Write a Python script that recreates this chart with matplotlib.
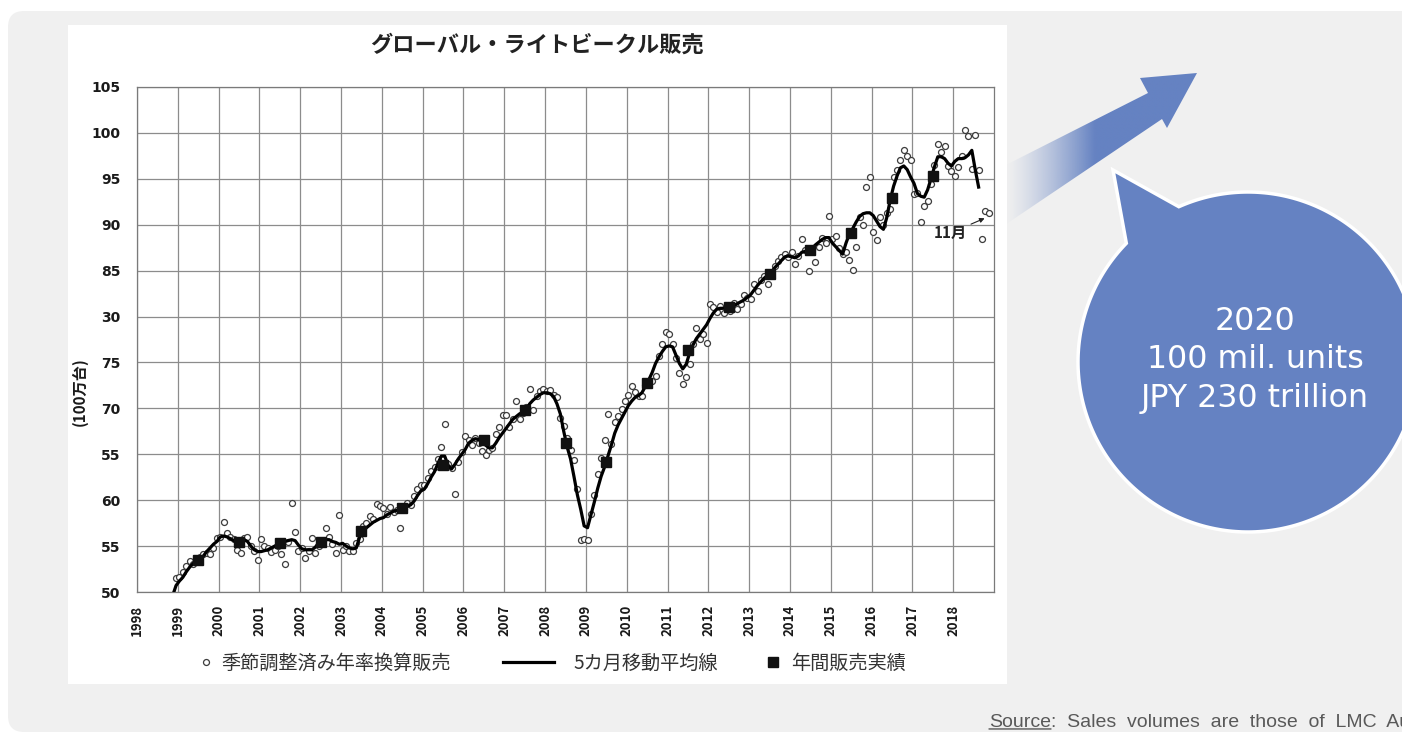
import matplotlib
matplotlib.use("Agg")
import matplotlib.pyplot as plt
import numpy as np
from matplotlib.patches import Polygon, Rectangle, FancyBboxPatch
from matplotlib.legend_handler import HandlerLine2D

plt.rcParams["font.family"] = ["Noto Sans CJK JP", "DejaVu Sans"]

# =========================
# DATOS
# =========================

TITLE = "グローバル・ライトビークル販売"
Y_LABEL = "(100万台)"
LABEL_SAAR = "季節調整済み年率換算販売"
LABEL_MA = "5カ月移動平均線"
LABEL_ANNUAL = "年間販売実績"

YEARS = list(range(1998, 2019))
Y_TICKS = [50, 55, 60, 65, 70, 75, 80, 85, 90, 95, 100, 105]
# etiquetas tal como aparecen en la imagen original
Y_TICK_LABELS = ["50", "55", "60", "55", "70", "75", "30", "85", "90", "95", "100", "105"]

# ventas mensuales (SAAR), desde dic-1998 hasta nov-2018
SAAR_START = (1998, 12)
saar_sales = [
    51.5,
    51.6, 52.2, 52.8, 53.4, 53.1, 53.5, 53.8, 54.1, 54.3, 54.1, 54.8, 55.9,  # 1999
    56.0, 57.6, 56.4, 56.0, 55.8, 54.6, 54.3, 55.9, 56.0, 55.0, 54.5, 53.5,  # 2000
    55.8, 55.0, 54.8, 54.4, 54.6, 55.0, 54.1, 53.1, 55.5, 59.7, 56.5, 54.5,  # 2001
    54.8, 53.7, 54.5, 55.9, 54.3, 55.0, 55.6, 57.0, 56.0, 55.2, 54.3, 58.4,  # 2002
    54.6, 55.0, 54.5, 54.5, 55.3, 55.8, 57.2, 57.5, 58.3, 58.0, 59.6, 59.4,  # 2003
    59.2, 58.5, 59.3, 58.7, 58.9, 57.0, 59.0, 59.7, 59.5, 60.5, 61.2, 61.6,  # 2004
    61.6, 62.4, 63.2, 63.6, 64.5, 65.8, 68.3, 63.9, 63.5, 60.7, 64.2, 65.3,  # 2005
    67.0, 66.5, 66.0, 66.8, 66.2, 65.4, 64.9, 65.5, 65.7, 67.2, 68.0, 69.3,  # 2006
    69.3, 68.0, 68.8, 70.8, 68.8, 69.5, 70.2, 72.1, 69.8, 71.4, 71.9, 72.1,  # 2007
    71.9, 72.0, 71.5, 71.2, 69.0, 68.1, 66.8, 65.5, 64.4, 61.2, 55.7, 55.8,  # 2008
    55.7, 58.5, 60.6, 62.8, 64.6, 66.6, 69.4, 66.1, 68.5, 69.2, 69.9, 70.8,  # 2009
    71.5, 72.4, 71.8, 71.4, 71.4, 72.5, 72.8, 73.0, 73.5, 75.7, 77.0, 78.3,  # 2010
    78.1, 77.0, 75.5, 73.9, 72.7, 73.4, 74.8, 77.0, 78.7, 77.5, 78.1, 77.1,  # 2011
    81.4, 81.0, 80.5, 81.2, 80.4, 81.0, 80.6, 81.5, 80.8, 81.4, 82.3, 82.0,  # 2012
    81.9, 83.5, 82.8, 84.0, 84.4, 83.5, 84.6, 85.5, 86.0, 86.5, 86.8, 86.5,  # 2013
    87.0, 85.7, 86.6, 88.4, 87.2, 85.0, 87.3, 85.9, 87.6, 88.6, 88.0, 91.0,  # 2014
    88.4, 88.8, 87.5, 86.8, 87.0, 86.2, 85.1, 87.6, 90.8, 90.0, 94.1, 95.2,  # 2015
    89.2, 88.3, 90.8, 90.0, 91.3, 91.7, 95.2, 96.0, 97.0, 98.1, 97.5, 97.0,  # 2016
    93.3, 93.5, 90.3, 92.0, 92.6, 94.4, 96.5, 98.8, 97.9, 98.6, 96.4, 95.8,  # 2017
    95.3, 96.3, 97.5, 100.3, 99.7, 96.1, 99.8, 96.0, 88.4, 91.5, 91.3,       # 2018
]

# media movil de 5 meses, desde nov-1998 hasta ago-2018
MA_START = (1998, 11)
ma5_sales = [
    49.6, 50.7,
    51.2, 51.6, 52.2, 52.7, 53.1, 53.3, 53.5, 53.9, 54.4, 54.8, 55.2, 55.5,  # 1999
    56.0, 56.1, 56.0, 55.8, 55.6, 55.4, 55.5, 55.7, 55.5, 55.0, 54.6, 54.4,  # 2000
    54.4, 54.5, 54.6, 54.8, 55.0, 55.2, 55.3, 55.5, 55.6, 55.7, 55.6, 55.1,  # 2001
    54.7, 54.6, 54.6, 54.6, 54.9, 55.4, 55.6, 55.7, 55.7, 55.5, 55.4, 55.2,  # 2002
    55.3, 55.0, 54.8, 54.7, 54.8, 56.0, 56.6, 57.0, 57.3, 57.6, 57.8, 58.0,  # 2003
    58.1, 58.4, 58.6, 58.8, 58.9, 59.0, 59.1, 59.3, 59.5, 59.9, 60.5, 61.0,  # 2004
    61.2, 61.8, 62.5, 63.1, 64.0, 64.8, 64.8, 63.8, 63.4, 63.9, 64.5, 65.0,  # 2005
    65.5, 66.2, 66.5, 66.7, 66.6, 66.3, 66.0, 65.7, 65.7, 66.2, 66.8, 67.3,  # 2006
    67.8, 68.3, 68.8, 69.1, 69.4, 69.6, 69.9, 70.5, 70.9, 71.2, 71.5, 71.7,  # 2007
    71.7, 71.6, 71.3, 70.5, 69.4, 67.5, 65.8, 64.5, 62.6, 60.6, 59.0, 57.2,  # 2008
    57.0, 58.4, 59.8, 61.3, 62.6, 63.6, 64.8, 66.0, 67.3, 68.2, 68.9, 69.6,  # 2009
    70.3, 70.8, 71.2, 71.4, 71.7, 72.4, 73.1, 73.9, 74.9, 75.6, 76.2, 76.7,  # 2010
    76.8, 76.7, 75.8, 74.9, 74.3, 74.8, 76.0, 76.9, 77.6, 78.1, 78.6, 79.1,  # 2011
    79.8, 80.4, 80.8, 80.9, 80.9, 81.0, 81.0, 81.2, 81.4, 81.6, 81.8, 82.1,  # 2012
    82.4, 82.9, 83.4, 83.8, 84.2, 84.5, 84.8, 85.3, 85.7, 86.1, 86.5, 86.6,  # 2013
    86.5, 86.4, 86.6, 87.0, 87.1, 87.2, 87.4, 87.8, 88.1, 88.4, 88.6, 88.6,  # 2014
    88.0, 87.6, 87.2, 86.8, 88.0, 89.0, 89.6, 90.3, 90.9, 91.2, 91.3, 91.3,  # 2015
    91.0, 90.4, 89.8, 89.5, 90.8, 92.7, 94.2, 95.3, 96.2, 96.4, 96.0, 95.2,  # 2016
    94.5, 93.4, 93.1, 93.0, 93.8, 95.0, 96.3, 97.4, 97.4, 97.2, 96.7, 96.4,  # 2017
    96.9, 97.2, 97.2, 97.3, 97.6, 98.1, 96.0, 94.1,                          # 2018
]

# ventas anuales (punto a mitad de ano)
annual_years = list(range(1999, 2018))
annual_sales = [53.5, 55.4, 55.3, 55.4, 56.6, 59.1, 63.8, 66.5, 69.8, 66.2,
                64.2, 72.8, 76.4, 81.0, 84.6, 87.3, 89.1, 92.9, 95.3]

NOTE_TEXT = "11月"
BUBBLE_LINES = ["2020", "100 mil. units", "JPY 230 trillion"]
SOURCE_WORD = "Source"
SOURCE_REST = ":  Sales  volumes  are  those  of  LMC  Au"

BLUE = "#6582c2"


def month_x(start, n):
    year, month = start
    return year + (month - 1 + np.arange(n)) / 12 + 0.04


class EndMarkerHandler(HandlerLine2D):
    # marcador centrado en una caja corta
    def get_xdata(self, legend, xdescent, ydescent, width, height, fontsize):
        return np.array([-xdescent, -xdescent + width]), np.array([-xdescent + width * 0.5])


def main() -> None:
    fig = plt.figure(figsize=(14.02, 7.32), dpi=100)

    # fondo en coordenadas de pixel
    bg = fig.add_axes([0, 0, 1, 1], zorder=0)
    bg.set_axis_off()

    panel = FancyBboxPatch((8, 11), 1440, 721, boxstyle="round,pad=0,rounding_size=16",
                           fc="#f0f0f0", ec="none", zorder=0)
    bg.add_patch(panel)

    # flecha con degradado
    arrow_pts = [(990, 173), (1148, 93), (1140, 78), (1197, 73),
                 (1167, 128), (1162, 119), (990, 235)]
    arrow = Polygon(arrow_pts, closed=True, fc="none", ec="none", zorder=1)
    bg.add_patch(arrow)
    xs = np.linspace(990, 1200, 300)
    alpha = np.clip((xs - 1005) / 90, 0.04, 1.0) ** 1.3
    rgb = np.array(matplotlib.colors.to_rgb(BLUE))
    grad = np.zeros((2, xs.size, 4))
    grad[..., :3] = rgb
    grad[..., 3] = alpha
    im = bg.imshow(grad, extent=(990, 1200, 240, 70), aspect="auto", zorder=1,
                   interpolation="bilinear")
    im.set_clip_path(arrow)

    # imagen del grafico (fondo blanco)
    bg.add_patch(Rectangle((68, 25), 939, 659, fc="white", ec="none", zorder=2))

    # bocadillo
    cx, cy, r = 1248, 362, 170
    th = np.deg2rad(np.linspace(-114, 224.3, 300))
    bubble = np.column_stack([cx + r * np.cos(th), cy + r * np.sin(th)])
    bubble = np.vstack([bubble, [[1113, 170]]])
    bg.add_patch(Polygon(bubble, closed=True, fc=BLUE, ec="white", lw=2.5, zorder=3))
    bg.text(1255, 360, "\n".join(BUBBLE_LINES), ha="center", va="center", color="white",
            fontsize=22.8, family="DejaVu Sans", linespacing=1.33, zorder=4)

    # fuente (con "Source" subrayado)
    src = bg.text(989, 727, SOURCE_WORD, ha="left", va="baseline", fontsize=14,
                  color="#595959", family="Liberation Sans", zorder=4)
    bg.annotate(SOURCE_REST, xy=(1, 0), xycoords=src, ha="left", va="bottom",
                fontsize=14, color="#595959", family="Liberation Sans", zorder=4)
    bg.annotate("", xy=(0, 0.12), xycoords=src, xytext=(1, 0.12), textcoords=src,
                arrowprops=dict(arrowstyle="-", color="#595959", lw=1.0,
                                shrinkA=0, shrinkB=0), zorder=4)

    bg.set_xlim(0, 1402)
    bg.set_ylim(732, 0)

    # grafico principal
    ax = fig.add_axes([137 / 1402, (732 - 592) / 732, 857 / 1402, 505 / 732], zorder=2)
    ax.set_facecolor("white")

    x_saar = month_x(SAAR_START, len(saar_sales))
    x_ma = month_x(MA_START, len(ma5_sales))
    x_annual = np.array(annual_years) + 0.5

    sc, = ax.plot(x_saar, saar_sales, ls="none", marker="o", ms=4.3, mfc="white",
                  mec="#3c3c3c", mew=0.9, zorder=3)
    ln, = ax.plot(x_ma, ma5_sales, color="black", lw=2.3, zorder=4)
    sq, = ax.plot(x_annual, annual_sales, ls="none", marker="s", ms=7.2, color="#111111",
                  zorder=5)

    ax.annotate(NOTE_TEXT, xy=(2018.77, 90.7), xytext=(2017.93, 89.1),
                ha="center", va="center", fontsize=11, fontweight="bold", color="#222222",
                arrowprops=dict(arrowstyle="-|>", color="#222222", lw=0.8,
                                mutation_scale=7, shrinkA=1, shrinkB=0), zorder=6)

    ax.set_xlim(1998, 2019)
    ax.set_ylim(50, 105)
    ax.set_xticks(YEARS)
    ax.set_xticklabels([str(y) for y in YEARS], rotation=90, fontsize=9.5,
                       fontweight="bold", color="#1a1a1a")
    ax.set_yticks(Y_TICKS)
    ax.set_yticklabels(Y_TICK_LABELS, fontsize=10, fontweight="bold",
                       family="DejaVu Sans", color="#1a1a1a")
    ax.tick_params(axis="both", length=0)
    ax.tick_params(axis="y", pad=12)
    ax.tick_params(axis="x", pad=9)
    ax.grid(True, color="#8c8c8c", lw=0.9)
    ax.set_axisbelow(True)
    for sp in ax.spines.values():
        sp.set_color("#7a7a7a")
        sp.set_linewidth(0.9)

    fig.text(537 / 1402, 1 - 45 / 732, TITLE, ha="center", va="center",
             fontsize=16, fontweight="bold", color="#222222")
    fig.text(80 / 1402, 1 - 392 / 732, Y_LABEL, ha="center", va="center",
             rotation=90, fontsize=11, fontweight="bold", color="#1a1a1a")

    # leyenda: tres leyendas para colocar cada entrada como en el original
    ly = 1 - 663 / 732
    common = dict(loc="center left", frameon=False, fontsize=13.8, borderpad=0,
                  borderaxespad=0, labelcolor="#333333")
    fig.legend([sc], [LABEL_SAAR], bbox_to_anchor=(198.5 / 1402, ly), handlelength=0.8,
               handletextpad=0.4, handler_map={sc: EndMarkerHandler(numpoints=1)}, **common)
    fig.legend([ln], [LABEL_MA], bbox_to_anchor=(503 / 1402, ly), handlelength=2.67,
               handletextpad=1.0, **common)
    fig.legend([sq], [LABEL_ANNUAL], bbox_to_anchor=(765.5 / 1402, ly), handlelength=0.8,
               handletextpad=0.55, handler_map={sq: EndMarkerHandler(numpoints=1)}, **common)

    fig.savefig("out.png", dpi=100)


if __name__ == "__main__":
    main()
